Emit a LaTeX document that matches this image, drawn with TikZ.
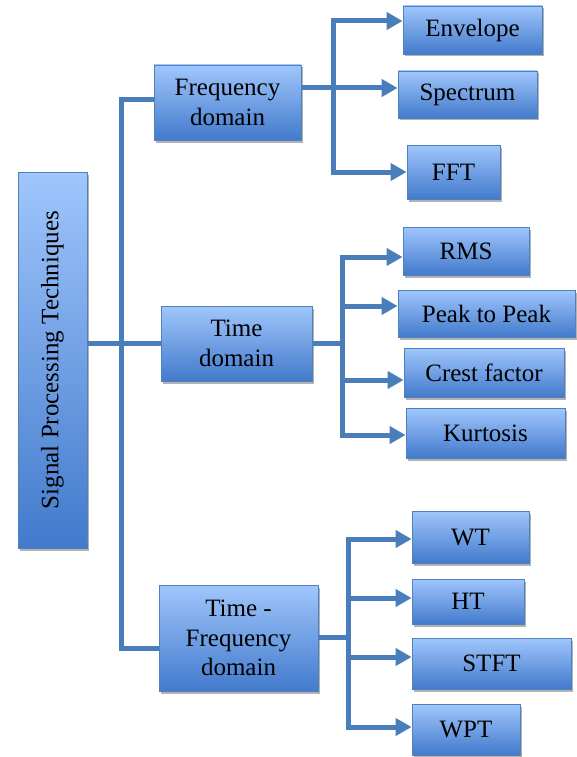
\documentclass[tikz,border=0pt]{standalone}
\usepackage{fontspec}
\setmainfont{Liberation Serif}
\usepackage{graphicx}
\usetikzlibrary{arrows.meta,shadows}
\definecolor{linecol}{RGB}{74,126,187}
\definecolor{boxtop}{RGB}{160,198,252}
\definecolor{boxbot}{RGB}{66,122,204}
\definecolor{boxedge}{RGB}{79,129,189}
\tikzset{
  box/.style={draw=boxedge, line width=0.8pt, top color=boxtop, bottom color=boxbot,
    inner sep=0pt, align=center, font=\fontsize{25}{29.5}\selectfont,
    drop shadow={shadow xshift=1.5pt, shadow yshift=-2.5pt, opacity=0.3, fill=black}},
  conn/.style={draw=linecol, line width=5pt, line join=miter},
  tip/.style={-{Triangle[length=16pt,width=17pt]}},
  tips/.style={{Triangle[length=16pt,width=17pt]}-{Triangle[length=16pt,width=17pt]}}
}
\begin{document}
\begin{tikzpicture}[x=1pt,y=-1pt]
\useasboundingbox (0,0) rectangle (576,757);
% nodes
\node[box, minimum width=69pt, minimum height=376pt] (root) at (52.5,360) {\rotatebox{90}{Signal Processing Techniques}};
\node[box, minimum width=147pt, minimum height=75pt] (freq) at (227.5,102.5) {Frequency\\domain};
\node[box, minimum width=151pt, minimum height=75pt] (time) at (236.5,343.5) {Time\\domain};
\node[box, minimum width=159pt, minimum height=106pt] (tf) at (238.5,638) {Time -\\Frequency\\domain};
\node[box, minimum width=139pt, minimum height=48pt] (env) at (472.5,30) {Envelope};
\node[box, minimum width=139pt, minimum height=47pt] (spec) at (467.5,94.5) {Spectrum};
\node[box, minimum width=93pt, minimum height=54pt] (fft) at (453.5,172) {FFT};
\node[box, minimum width=126pt, minimum height=48pt] (rms) at (466,251) {RMS};
\node[box, minimum width=177pt, minimum height=47pt] (peak) at (486.5,313.5) {Peak to Peak};
\node[box, minimum width=160pt, minimum height=49pt] (crest) at (484,372.5) {Crest factor};
\node[box, minimum width=159pt, minimum height=50pt] (kurt) at (485.5,433) {Kurtosis};
\node[box, minimum width=117pt, minimum height=52pt] (wt) at (470.5,537) {WT};
\node[box, minimum width=112pt, minimum height=45pt] (ht) at (468,601.5) {HT};
\node[box, minimum width=159pt, minimum height=51pt] (stft) at (491.5,663.5) {STFT};
\node[box, minimum width=108pt, minimum height=51pt] (wpt) at (466,729.5) {WPT};
% trunk
\draw[conn] (freq.west |- 0,100) -- (121,100) -- (121,648) -- (tf.west |- 0,648);
\draw[conn] (root.east |- time.west) -- (time.west);
% frequency branch
\draw[conn,tip] (freq.east |- 0,88) -- (spec.west |- 0,88);
\draw[conn,tips] (env.west |- 0,21) -- (333,21) -- (333,172) -- (fft.west |- 0,172);
% time branch
\draw[conn] (time.east) -- (342,343.5);
\draw[conn,tips] (rms.west |- 0,257) -- (342,257) -- (342,435) -- (kurt.west |- 0,435);
\draw[conn,tip] (342,306) -- (peak.west |- 0,306);
\draw[conn,tip] (342,380) -- (crest.west |- 0,380);
% time-frequency branch
\draw[conn] (tf.east |- 0,637) -- (348,637);
\draw[conn,tips] (wt.west |- 0,539) -- (348,539) -- (348,727) -- (wpt.west |- 0,727);
\draw[conn,tip] (348,598) -- (ht.west |- 0,598);
\draw[conn,tip] (348,657) -- (stft.west |- 0,657);
\end{tikzpicture}
\end{document}
